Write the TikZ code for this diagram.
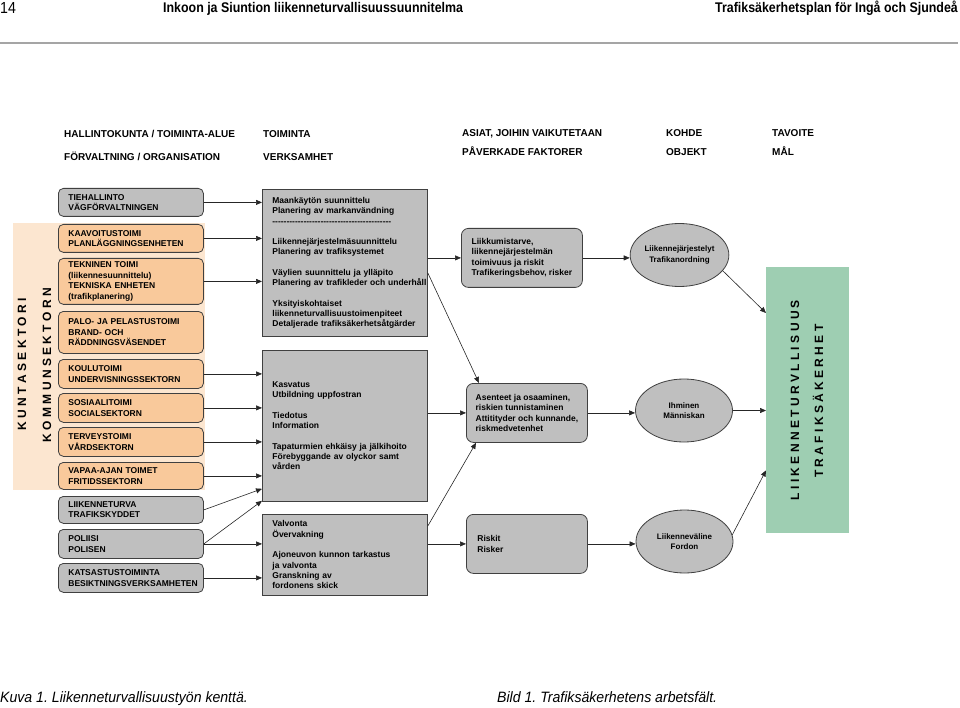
\documentclass[tikz,border=0pt]{standalone}
\usepackage{fontspec}
\usepackage{graphicx}
\setmainfont{Liberation Sans}
\usetikzlibrary{arrows.meta,shapes.geometric}
\frenchspacing

\definecolor{boxorange}{RGB}{249,201,155}
\definecolor{bandorange}{RGB}{252,230,208}
\definecolor{boxgray}{RGB}{191,191,191}
\definecolor{edgegray}{RGB}{64,64,64}
\definecolor{goalgreen}{RGB}{158,206,178}
\definecolor{rulegray}{RGB}{165,165,165}

\newcommand{\boxfont}{\fontsize{8.5}{10.4}\selectfont\bfseries}
\newcommand{\headfont}{\fontsize{10}{12}\selectfont\bfseries}
\newcommand{\spinefont}{\fontsize{12}{14}\selectfont\bfseries}
\newcommand{\dashrow}{\foreach \k in {1,...,42}{-\kern0pt}}

\begin{document}
\begin{tikzpicture}[x=1pt, y=-1pt,
    every node/.style={inner sep=0pt},
    unitbox/.style={draw=edgegray, line width=0.8pt, rounded corners=5pt, anchor=north west,
      minimum width=145pt, text width=125pt, inner xsep=10pt, align=left, font=\boxfont},
    kunta/.style={unitbox, fill=boxorange},
    valtio/.style={unitbox, fill=boxgray},
    taskbox/.style={draw=edgegray, line width=0.8pt, fill=boxgray, anchor=north west,
      minimum width=165pt, text width=145pt, inner xsep=10pt, align=left, font=\boxfont},
    factorbox/.style={draw=edgegray, line width=0.8pt, fill=boxgray, rounded corners=7pt,
      anchor=north west, minimum width=121pt, minimum height=59pt, align=left, font=\boxfont},
    objbox/.style={ellipse, draw=edgegray, line width=0.8pt, fill=boxgray, minimum width=97pt,
      minimum height=63pt, align=center, font=\fontsize{8}{10.2}\selectfont\bfseries},
    arr/.style={-{Triangle[length=6pt,width=5pt]}, line width=0.6pt, draw=black!85},
    head/.style={anchor=base west, font=\headfont}]
  \useasboundingbox (0,0) rectangle (960,708);

  \node[anchor=base west, font=\fontsize{16}{16}\selectfont] (pagenum) at (0,14) {\scalebox{0.886}[1]{14}};
  \node[anchor=base west, font=\fontsize{14}{14}\selectfont\bfseries] (titlefi) at (163,13)
    {\scalebox{0.886}[1]{Inkoon ja Siuntion liikenneturvallisuussuunnitelma}};
  \node[anchor=base east, font=\fontsize{14}{14}\selectfont\bfseries] (titlesv) at (958,13)
    {\scalebox{0.886}[1]{Trafiksäkerhetsplan för Ingå och Sjundeå}};
  \draw[rulegray, line width=1.5pt] (0,43) -- (958,43);

  \node[head] (hdorg) at (64,137.6) {HALLINTOKUNTA / TOIMINTA-ALUE};
  \node[head] (hdorgsv) at (64,160.6) {FÖRVALTNING / ORGANISATION};
  \node[head] (hdtask) at (263,137.6) {TOIMINTA};
  \node[head] (hdtasksv) at (263,160.6) {VERKSAMHET};
  \node[head] (hdfact) at (462,136.6) {ASIAT, JOIHIN VAIKUTETAAN};
  \node[head] (hdfactsv) at (462,155.6) {PÅVERKADE FAKTORER};
  \node[head] (hdobj) at (666,136.6) {KOHDE};
  \node[head] (hdobjsv) at (666,155.6) {OBJEKT};
  \node[head] (hdgoal) at (772,136.6) {TAVOITE};
  \node[head] (hdgoalsv) at (772,155.6) {MÅL};

  \fill[bandorange] (13,223) rectangle (205,490);
  \node[rotate=90, font=\spinefont] (kuntasek) at (22,364) {K U N T A S E K T O R I};
  \node[rotate=90, font=\spinefont] (kommsek) at (47,365) {K O M M U N S E K T O R N};

  \node[valtio, minimum height=28pt] (tiehal) at (58,188) {TIEHALLINTO\\VÄGFÖRVALTNINGEN};
  \node[kunta, minimum height=28pt] (kaav) at (58,224) {KAAVOITUSTOIMI\\PLANLÄGGNINGSENHETEN};
  \node[kunta, minimum height=46pt] (tekn) at (58,258)
    {TEKNINEN TOIMI\\(liikennesuunnittelu)\\TEKNISKA ENHETEN\\(trafikplanering)};
  \node[kunta, minimum height=42pt] (palo) at (58,311)
    {PALO- JA PELASTUSTOIMI\\BRAND- OCH\\RÄDDNINGSVÄSENDET};
  \node[kunta, minimum height=29pt] (koul) at (58,359) {KOULUTOIMI\\UNDERVISNINGSSEKTORN};
  \node[kunta, minimum height=29pt] (sosi) at (58,393) {SOSIAALITOIMI\\SOCIALSEKTORN};
  \node[kunta, minimum height=29pt] (terv) at (58,427) {TERVEYSTOIMI\\VÅRDSEKTORN};
  \node[kunta, minimum height=27pt] (vapaa) at (58,462) {VAPAA-AJAN TOIMET\\FRITIDSSEKTORN};
  \node[valtio, minimum height=27pt] (lturva) at (58,496) {LIIKENNETURVA\\TRAFIKSKYDDET};
  \node[valtio, minimum height=29pt] (poli) at (58,529) {POLIISI\\POLISEN};
  \node[valtio, minimum height=29pt] (katsa) at (58,563)
    {KATSASTUSTOIMINTA\\BESIKTNINGSVERKSAMHETEN};

  \node[taskbox, minimum height=147pt] (plan) at (262,189)
    {Maankäytön suunnittelu\\Planering av markanvändning\\\dashrow\\[10pt]
     Liikennejärjestelmäsuunnittelu\\Planering av trafiksystemet\\[10pt]
     Väylien suunnittelu ja ylläpito\\\mbox{Planering av trafikleder och underhåll}\\[10pt]
     Yksityiskohtaiset\\liikenneturvallisuustoimenpiteet\\\mbox{Detaljerade trafiksäkerhetsåtgärder}};
  \node[taskbox, minimum height=151pt] (educ) at (262,350)
    {Kasvatus\\Utbildning uppfostran\\[10pt]Tiedotus\\Information\\[10pt]
     Tapaturmien ehkäisy ja jälkihoito\\Förebyggande av olyckor samt\\vården};
  \node[taskbox, minimum height=81pt] (valv) at (262,514)
    {Valvonta\\Övervakning\\[10pt]Ajoneuvon kunnon tarkastus\\ja valvonta\\Granskning av\\fordonens skick};

  \node[factorbox] (need) at (461,228)
    {Liikkumistarve,\\liikennejärjestelmän\\toimivuus ja riskit\\Trafikeringsbehov, risker};
  \node[factorbox] (attit) at (466,383)
    {Asenteet ja osaaminen,\\riskien tunnistaminen\\Attitityder och kunnande,\\riskmedvetenhet};
  \node[factorbox, text width=99pt, inner xsep=11pt] (risk) at (466,514) {Riskit\\Risker};

  \node[objbox] (arrang) at (679.5,255) {Liikennejärjestelyt\\Trafikanordning};
  \node[objbox] (human) at (684,410.5) {Ihminen\\Människan};
  \node[objbox] (vehic) at (684.5,541.5) {Liikenneväline\\Fordon};

  \node[fill=goalgreen, anchor=north west, minimum width=83pt, minimum height=266pt] (goal) at (766,267) {};
  \node[rotate=90, font=\spinefont] (goalfi) at (795,400) {L I I K E N N E T U R V L L I S U U S};
  \node[rotate=90, font=\spinefont] (goalsv) at (818,401) {T R A F I K S Ä K E R H E T};

  \foreach \n in {tiehal,kaav,tekn}
    \draw[arr] (\n.east) -- (\n.east -| plan.west);
  \foreach \n in {koul,sosi,terv,vapaa}
    \draw[arr] (\n.east) -- (\n.east -| educ.west);
  \draw[arr] (lturva.east) -- ([yshift=13pt]educ.south west);
  \draw[arr] (poli.east) -- ([yshift=1pt]educ.south west);
  \foreach \n in {poli,katsa}
    \draw[arr] (\n.east) -- (\n.east -| valv.west);

  \draw[arr] (plan.east |- need.west) -- (need.west);
  \draw[arr] ([yshift=-10pt]plan.east) -- ([xshift=13pt]attit.north west);
  \draw[arr] (educ.east |- attit.west) -- (attit.west);
  \draw[arr] ([yshift=-12pt]valv.north east) -- ([xshift=10pt]attit.south west);
  \draw[arr] (valv.east |- risk.west) -- (risk.west);
  \draw[arr] (need.east) -- (need.east -| arrang.west);
  \draw[arr] (attit.east) -- (attit.east -| human.west);
  \draw[arr] (risk.east) -- (risk.east -| vehic.west);
  \draw[arr] (arrang.-20) -- ([yshift=-46pt]goal.north west);
  \draw[arr] (human.east) -- (human.east -| goal.west);
  \draw[arr] (vehic.8) -- ([yshift=63pt]goal.south west);

  \node[anchor=base west, font=\fontsize{15}{15}\selectfont\itshape] (capfi) at (0,702)
    {\scalebox{0.94}[1]{Kuva 1. Liikenneturvallisuustyön kenttä.}};
  \node[anchor=base west, font=\fontsize{15}{15}\selectfont\itshape] (capsv) at (497,702)
    {\scalebox{0.94}[1]{Bild 1. Trafiksäkerhetens arbetsfält.}};
\end{tikzpicture}
\end{document}
